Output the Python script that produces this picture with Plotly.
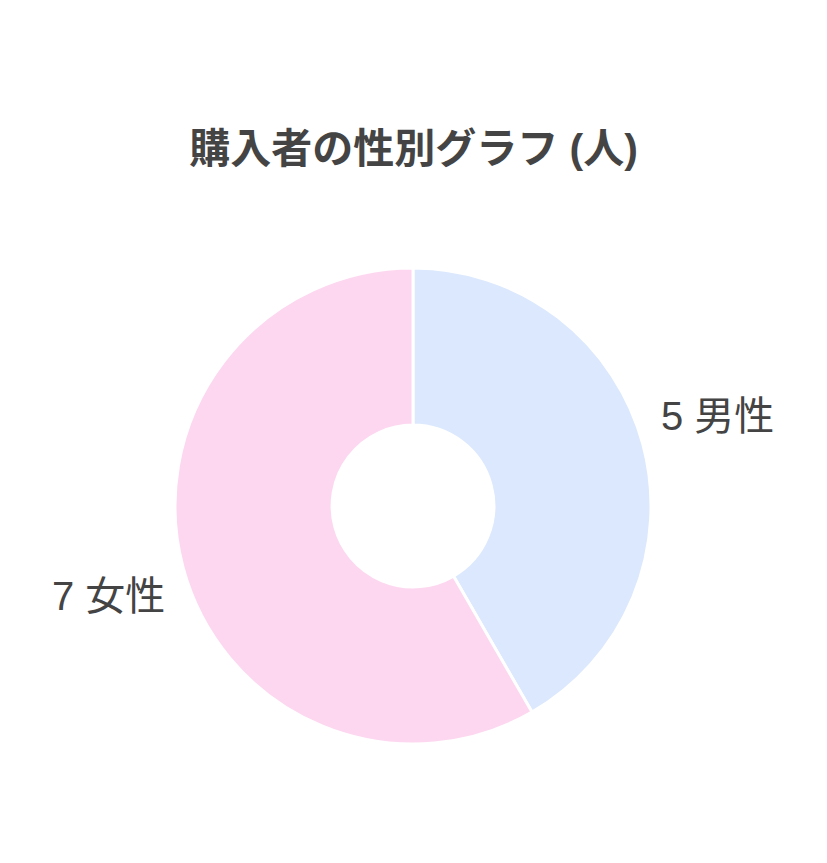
import math
import plotly.graph_objects as go

labels = ["男性", "女性"]
values = [5, 7]
colors = ["#dbe8fd", "#fdd7ef"]
title_text = "購入者の性別グラフ (人)"

W, H = 827, 863
M_T, M_B, M_L, M_R = 260, 127, 0, 17
plot_w = W - M_L - M_R
plot_h = H - M_T - M_B
radius_px = plot_h / 2
label_r = 1.323 * radius_px
label_lift = 8.5

fig = go.Figure(go.Pie(
    labels=labels,
    values=values,
    hole=0.34,
    sort=False,
    direction="clockwise",
    rotation=0,
    marker=dict(colors=colors, line=dict(color="#ffffff", width=3)),
    textinfo="none",
    showlegend=False,
    hoverinfo="label+value",
))

# outside labels at each slice's mid-angle (derived from the values)
total = sum(values)
cum = 0
for lab, val in zip(labels, values):
    mid = (cum + val / 2) / total * 2 * math.pi
    cum += val
    dx = label_r * math.sin(mid)
    dy = label_r * math.cos(mid)
    fig.add_annotation(
        x=0.5 + dx / plot_w,
        y=0.5 + dy / plot_h,
        xref="paper",
        yref="paper",
        yshift=label_lift * (1 if dy >= 0 else -1),
        text=f"{val} {lab}",
        showarrow=False,
        xanchor="center",
        yanchor="middle",
        font=dict(size=40, color="#444444", family="Liberation Sans, Noto Sans CJK JP"),
    )

fig.update_layout(
    width=W,
    height=H,
    paper_bgcolor="#ffffff",
    plot_bgcolor="#ffffff",
    margin=dict(l=M_L, r=M_R, t=M_T, b=M_B),
    title=dict(
        text="<b>" + title_text + "</b>",
        x=(413.5 - 8) / W,
        xanchor="center",
        y=1 - 141 / H,
        yanchor="middle",
        yref="container",
        font=dict(size=41, color="#444444", family="Liberation Sans, Noto Sans CJK JP"),
    ),
)

fig.write_html("out.html")
